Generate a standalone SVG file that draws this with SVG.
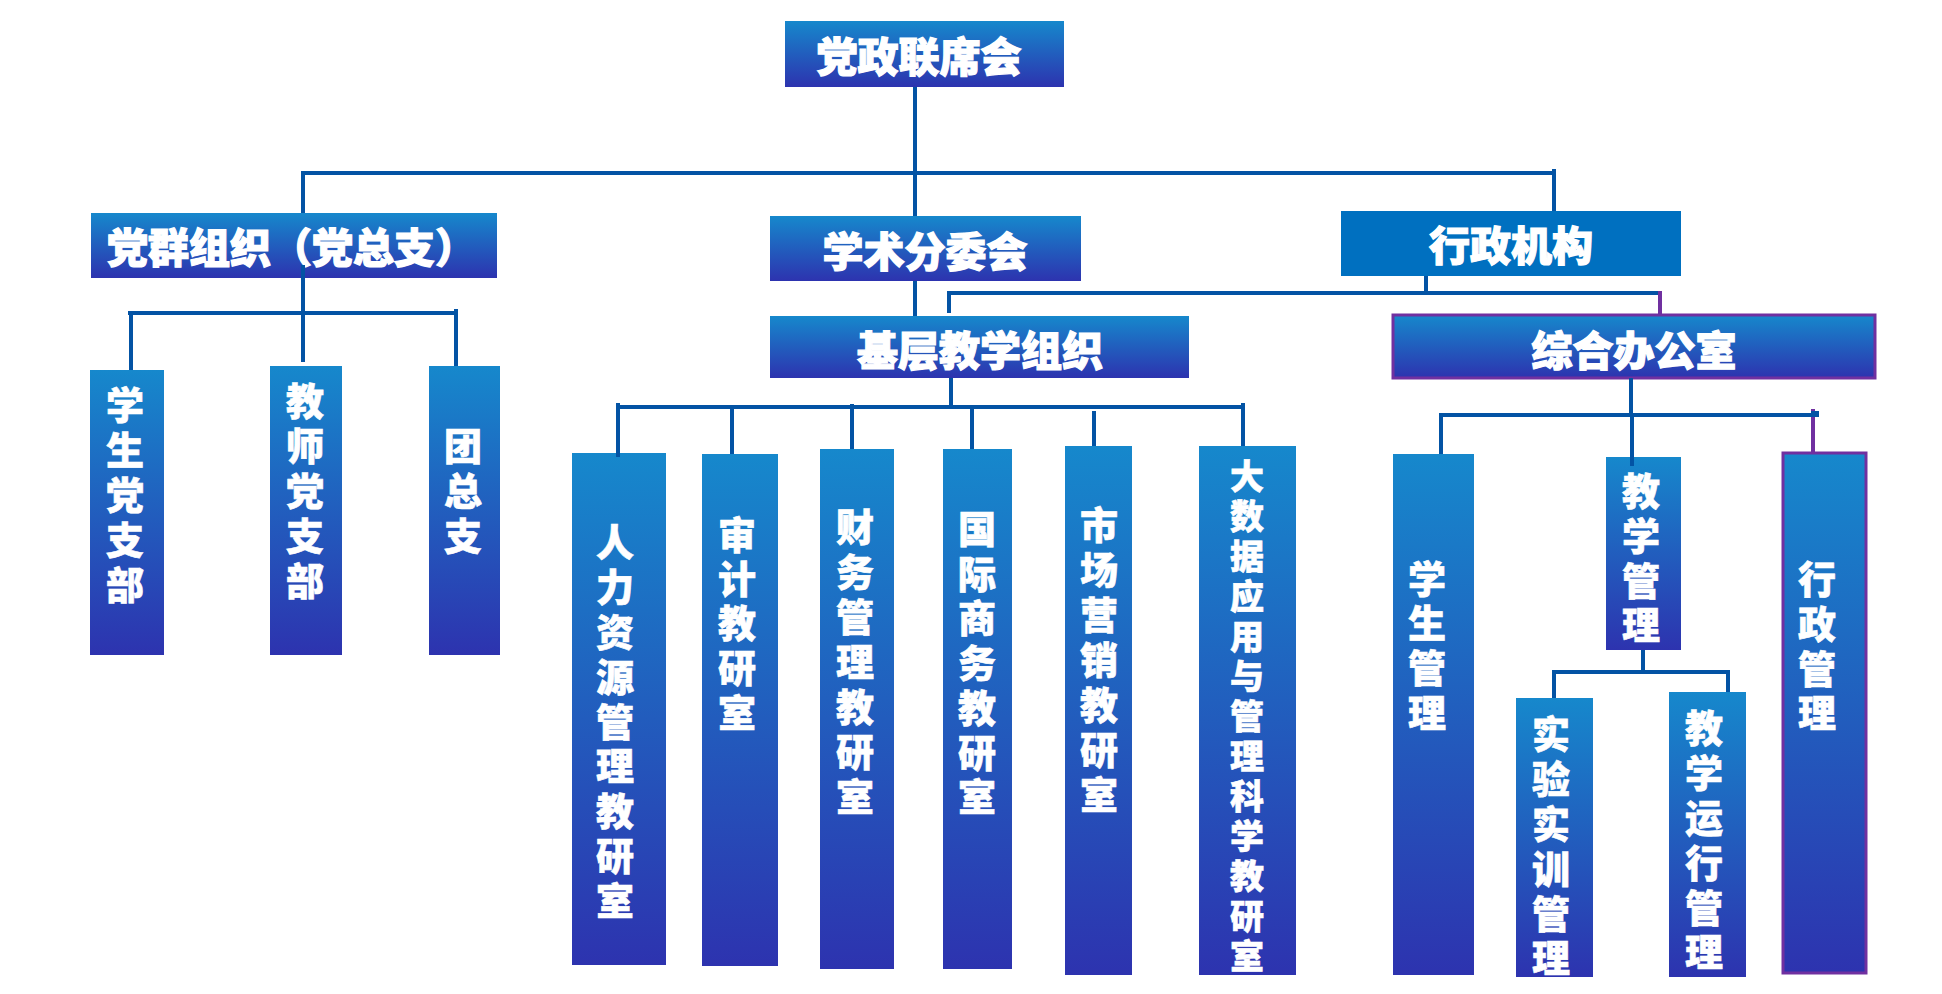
<svg xmlns="http://www.w3.org/2000/svg" width="1942" height="994" viewBox="0 0 1942 994">
<defs>
<linearGradient id="g" x1="0" y1="0" x2="0" y2="1">
<stop offset="0" stop-color="#1688CC"/>
<stop offset="1" stop-color="#2D33AF"/>
</linearGradient>
</defs>
<style>
.b{fill:url(#g);}
.s{fill:#0070C0;}
.p{stroke:#7030A0;stroke-width:3;}
.h{font-family:"Noto Sans CJK SC","Noto Sans",sans-serif;font-weight:900;font-size:41px;fill:#fff;stroke:#fff;stroke-width:1.2;dominant-baseline:central;text-anchor:middle;}
.v{font-family:"Noto Sans CJK SC","Noto Sans",sans-serif;font-weight:900;font-size:38px;fill:#fff;stroke:#fff;stroke-width:0.6;dominant-baseline:central;text-anchor:middle;}
.v2{font-size:34px;}
.c{stroke:#0353A4;stroke-width:4;fill:none;}
.cp{stroke:#7030A0;stroke-width:4;fill:none;}
</style>
<rect width="1942" height="994" fill="#fff"/>
<g id="n-dangzheng"><rect class="b" x="785" y="21" width="279" height="66"/><text class="h" x="919" y="54">党政联席会</text></g>
<g id="n-dangqun"><rect class="b" x="91" y="213" width="406" height="65"/><text class="h" x="107" y="245" style="text-anchor:start">党群组织（党总支）</text></g>
<g id="n-xueshu"><rect class="b" x="770" y="216" width="311" height="65"/><text class="h" x="925" y="249">学术分委会</text></g>
<g id="n-xingzheng"><rect class="s" x="1341" y="211" width="340" height="65"/><text class="h" x="1511" y="243">行政机构</text></g>
<g id="n-jiceng"><rect class="b" x="770" y="316" width="419" height="62"/><text class="h" x="980" y="348">基层教学组织</text></g>
<g id="n-zonghe"><rect class="b p" x="1393" y="315" width="482" height="63"/><text class="h" x="1634" y="348">综合办公室</text></g>
<g id="n-xsdzb"><rect class="b" x="90" y="370" width="74" height="285"/><text class="v" x="125 125 125 125 125" y="402 447 492 537 582">学生党支部</text></g>
<g id="n-jsdzb"><rect class="b" x="270" y="366" width="72" height="289"/><text class="v" x="305 305 305 305 305" y="398 443 488 533 578">教师党支部</text></g>
<g id="n-tzz"><rect class="b" x="429" y="366" width="71" height="289"/><text class="v" x="463 463 463" y="443 488 533">团总支</text></g>
<g id="n-rlzy"><rect class="b" x="572" y="453" width="94" height="512"/><text class="v" x="615 615 615 615 615 615 615 615 615" y="539 584 629 674 719 763 808 853 898">人力资源管理教研室</text></g>
<g id="n-sj"><rect class="b" x="702" y="454" width="76" height="512"/><text class="v" x="737 737 737 737 737" y="532 576 620 665 710">审计教研室</text></g>
<g id="n-cw"><rect class="b" x="820" y="449" width="74" height="520"/><text class="v" x="855 855 855 855 855 855 855" y="524 569 614 659 704 749 794">财务管理教研室</text></g>
<g id="n-gj"><rect class="b" x="943" y="449" width="69" height="520"/><text class="v" x="977 977 977 977 977 977 977" y="526 571 615 660 705 750 794">国际商务教研室</text></g>
<g id="n-sc"><rect class="b" x="1065" y="446" width="67" height="529"/><text class="v" x="1099 1099 1099 1099 1099 1099 1099" y="522 567 612 657 702 747 792">市场营销教研室</text></g>
<g id="n-dsj"><rect class="b" x="1199" y="446" width="97" height="529"/><text class="v v2" x="1247 1247 1247 1247 1247 1247 1247 1247 1247 1247 1247 1247 1247" y="474 514 554 594 634 674 714 754 794 834 874 914 954">大数据应用与管理科学教研室</text></g>
<g id="n-xsgl"><rect class="b" x="1393" y="454" width="81" height="521"/><text class="v" x="1427 1427 1427 1427" y="576 620 665 710">学生管理</text></g>
<g id="n-jxgl"><rect class="b" x="1606" y="457" width="75" height="193"/><text class="v" x="1641 1641 1641 1641" y="488 533 578 622">教学管理</text></g>
<g id="n-sysx"><rect class="b" x="1516" y="698" width="77" height="279"/><text class="v" x="1551 1551 1551 1551 1551 1551" y="731 776 821 866 911 955">实验实训管理</text></g>
<g id="n-jxyx"><rect class="b" x="1669" y="692" width="77" height="285"/><text class="v" x="1704 1704 1704 1704 1704 1704" y="725 770 815 860 905 949">教学运行管理</text></g>
<g id="n-xzgl"><rect class="b p" x="1783" y="453" width="83" height="520"/><text class="v" x="1817 1817 1817 1817" y="576 621 666 710">行政管理</text></g>
<g id="connectors">
<path class="c" d="M915 87V216M302 173H1556M303 171V213M1554 169V211"/>
<path class="c" d="M303 265V362M128 313H454M131 313V370M456 309V366"/>
<path class="c" d="M915 281V316M1426 276V293M949 293H1660M949 291V313"/>
<path class="cp" d="M1660 291V315"/>
<path class="c" d="M951 378V407M616 407H1245M618 403V457M732 407V454M852 404V449M972 407V449M1094 411V446M1243 403V446"/>
<path class="c" d="M1631 378V414M1439 415H1815M1441 413V454M1632 413V466"/>
<path class="cp" d="M1813 409V453"/>
<rect x="1811" y="411" width="8" height="6" fill="#0353A4"/>
<path class="c" d="M1643 650V672M1552 672H1730M1554 670V698M1728 670V692"/>
</g>
</svg>
